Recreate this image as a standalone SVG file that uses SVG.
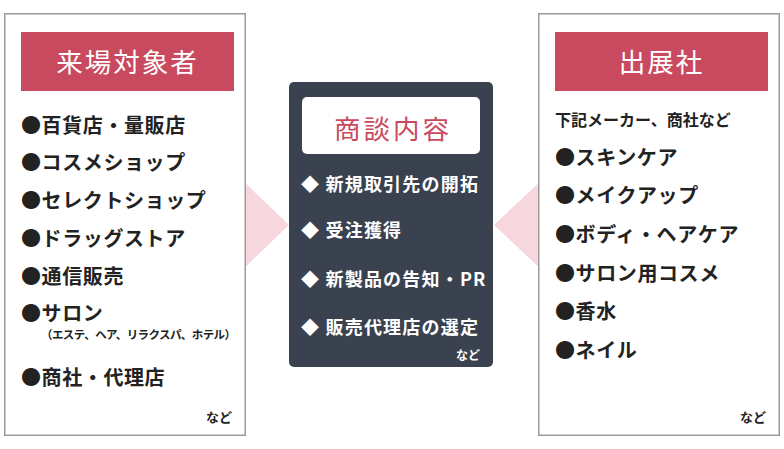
<svg xmlns="http://www.w3.org/2000/svg" width="784" height="449" viewBox="0 0 784 449">
<style>
.box{fill:#fff;stroke:#9a9a9a;stroke-width:1.5}
.hdr{fill:#c94a5f}
.tri{fill:#f6d7dd}
.t{font-family:"Noto Sans CJK JP","Noto Sans",sans-serif}
.title{font-size:26.5px;fill:#fff;text-anchor:middle;letter-spacing:2px}
.li{font-size:20px;font-weight:bold;fill:#222;letter-spacing:0.6px}
.wi{font-size:18px;font-weight:bold;fill:#fff;letter-spacing:1.2px}
.sm{font-size:13px;font-weight:bold;fill:#222}
</style>
<rect width="784" height="449" fill="#fff"/>
<g id="connectors">
<polygon class="tri" points="240,178 289,225 240,272"/>
<polygon class="tri" points="544,178 494,225 544,272"/>
</g>
<g id="visitors">
<rect class="box" x="4.75" y="13.75" width="240.5" height="421.5"/>
<rect class="hdr" x="21" y="32" width="213" height="59"/>
<text class="t title" x="127.5" y="72">来場対象者</text>
<text class="t li" x="21" y="133">●百貨店・量販店</text>
<text class="t li" x="21" y="170">●コスメショップ</text>
<text class="t li" x="21" y="208">●セレクトショップ</text>
<text class="t li" x="21" y="246">●ドラッグストア</text>
<text class="t li" x="21" y="284">●通信販売</text>
<text class="t li" x="21" y="321">●サロン</text>
<text class="t" x="41" y="339" font-size="11.5" font-weight="bold" fill="#222" letter-spacing="-0.6">（エステ、ヘア、リラクスパ、ホテル）</text>
<text class="t li" x="21" y="385">●商社・代理店</text>
<text class="t sm" x="232" y="422" text-anchor="end">など</text>
</g>
<g id="content">
<rect x="289" y="82" width="204" height="285" rx="5" fill="#3a4250"/>
<rect x="302" y="97" width="178" height="57" rx="5" fill="#fff"/>
<text class="t" x="393" y="139" font-size="26.5" fill="#c94a5f" text-anchor="middle" letter-spacing="3">商談内容</text>
<text class="t wi" x="301" y="191">◆ 新規取引先の開拓</text>
<text class="t wi" x="301" y="237">◆ 受注獲得</text>
<text class="t wi" x="301" y="286">◆ 新製品の告知・PR</text>
<text class="t wi" x="301" y="334">◆ 販売代理店の選定</text>
<text x="480" y="360" class="t" font-size="12" font-weight="bold" fill="#fff" text-anchor="end">など</text>
</g>
<g id="exhibitors">
<rect class="box" x="538.75" y="13.75" width="240.5" height="421.5"/>
<rect class="hdr" x="555" y="32" width="213" height="59"/>
<text class="t title" x="661.5" y="72">出展社</text>
<text class="t" x="555" y="126" font-size="16" font-weight="bold" fill="#222">下記メーカー、商社など</text>
<text class="t li" x="555" y="165">●スキンケア</text>
<text class="t li" x="555" y="203">●メイクアップ</text>
<text class="t li" x="555" y="242">●ボディ・ヘアケア</text>
<text class="t li" x="555" y="281">●サロン用コスメ</text>
<text class="t li" x="555" y="319">●香水</text>
<text class="t li" x="555" y="358">●ネイル</text>
<text class="t sm" x="766" y="422" text-anchor="end">など</text>
</g>
</svg>
